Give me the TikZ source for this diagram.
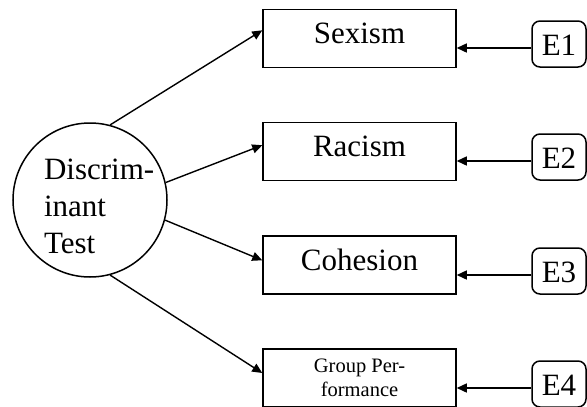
\documentclass[tikz,border=0pt]{standalone}
\usepackage{fontspec}
\setmainfont{Liberation Serif}
\usetikzlibrary{arrows.meta,calc}
\begin{document}
\begin{tikzpicture}[x=1pt,y=-1pt,
  line width=1.5pt,
  arr/.style={-{Triangle[length=10pt,width=9pt]}, line width=1.4pt},
  var/.style={draw, rectangle, minimum width=193pt, inner xsep=0pt, inner ysep=0pt, text height=34pt, text depth=24pt, font=\fontsize{31}{37}\selectfont},
  err/.style={draw, rounded corners=8pt, minimum width=54pt, inner xsep=0pt, inner ysep=0pt, text height=34pt, text depth=12pt, font=\fontsize{31}{37}\selectfont}]
\useasboundingbox (0,0) rectangle (587,407);
\node[draw, circle, minimum size=154pt, inner sep=0pt] (dt) at (90,200) {};
\node[anchor=base west, align=left, inner sep=0pt, font=\fontsize{31}{36.7}\selectfont] (dtt) at (43.3,253.3) {Discrim-\\inant\\Test};
\node[var, anchor=base] (s) at (359.5,43.3) {Sexism};
\node[var, anchor=base] (r) at (359.5,156.7) {Racism};
\node[var, anchor=base] (c) at (359.5,270) {Cohesion};
\node[draw, rectangle, minimum width=193pt, minimum height=58pt, inner sep=0pt, align=center, font=\fontsize{20.5}{23.7}\selectfont] (g) at (359.5,378) {Group Per-\\formance};
\node[err, anchor=base] (e1) at (559,55) {E1};
\node[err, anchor=base] (e2) at (559,168) {E2};
\node[err, anchor=base] (e3) at (559,282) {E3};
\node[err, anchor=base] (e4) at (559,395) {E4};
\draw[arr] (dt.75) -- ($(s.west)+(0,-8)$);
\draw[arr] (dt.13) -- ($(r.west)+(0,-6.5)$);
\draw[arr] (dt.-15) -- ($(c.west)+(0,-4.7)$);
\draw[arr] (dt.-75) -- ($(g.west)+(0,-5)$);
\draw[arr] ($(e1.west)+(0,4)$) coordinate (a1) -- (a1 -| s.east);
\draw[arr] ($(e2.west)+(0,4)$) coordinate (a2) -- (a2 -| r.east);
\draw[arr] ($(e3.west)+(0,4)$) coordinate (a3) -- (a3 -| c.east);
\draw[arr] ($(e4.west)+(0,4)$) coordinate (a4) -- (a4 -| g.east);
\end{tikzpicture}
\end{document}
